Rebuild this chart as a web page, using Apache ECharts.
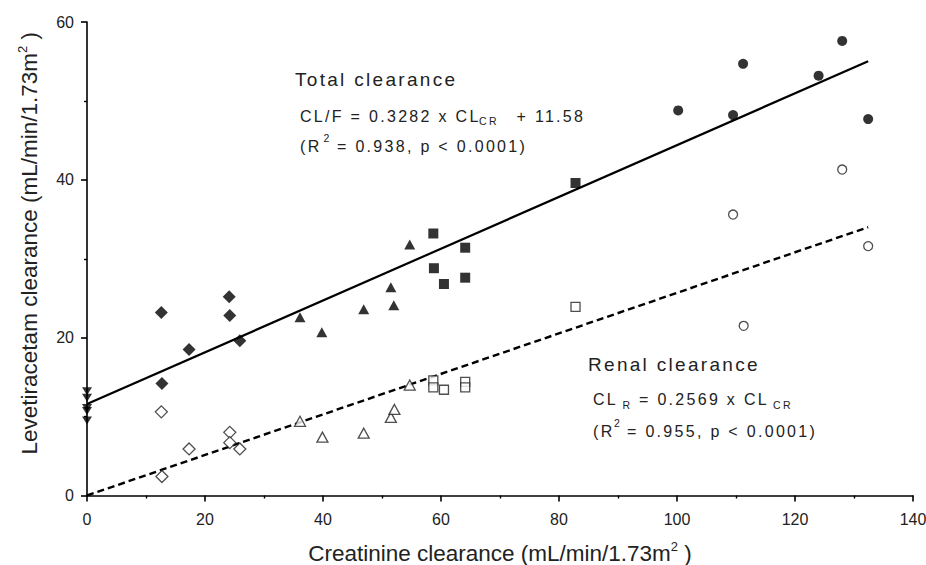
<!DOCTYPE html>
<html>
<head>
<meta charset="utf-8">
<script src="https://cdn.jsdelivr.net/npm/echarts@6/dist/echarts.min.js"></script>
<style>
  html, body { margin: 0; padding: 0; background: #fff; }
  #chart { width: 926px; height: 565px; }
  /* the figure's annotations are typeset with wide tracking */
  #chart svg text[style*="Liberation"] { letter-spacing: 2.3px; }
</style>
</head>
<body>
<div id="chart"></div>
<script>
// creatinine clearance (x) vs levetiracetam clearance (y)
const totalDiamond = [[12.6, 23.2], [24.1, 25.2], [24.2, 22.8], [17.3, 18.5], [25.9, 19.6], [12.7, 14.2]];
const renalDiamond = [[12.6, 10.6], [17.3, 5.9], [24.2, 8.0], [24.2, 6.7], [25.9, 5.9], [12.7, 2.4]];
const totalTriangle = [[36.1, 22.6], [39.8, 20.7], [46.9, 23.6], [51.5, 26.4], [52.0, 24.1], [54.7, 31.8]];
const renalTriangle = [[36.1, 9.4], [39.9, 7.4], [46.9, 7.9], [51.5, 9.9], [52.1, 10.9], [54.7, 14.0]];
const totalSquare = [[58.7, 33.2], [64.1, 31.4], [58.8, 28.8], [60.5, 26.8], [64.1, 27.6], [82.8, 39.6]];
const renalSquare = [[58.7, 14.6], [58.7, 13.7], [60.5, 13.4], [64.1, 14.4], [64.1, 13.7], [82.8, 23.9]];
const totalCircle = [[100.2, 48.8], [109.5, 48.2], [111.2, 54.7], [124.0, 53.2], [128.0, 57.6], [132.4, 47.7]];
const renalCircle = [[128.0, 41.3], [109.5, 35.6], [132.4, 31.6], [111.3, 21.5]];
const anuric = [[0, 13.2], [0, 12.4], [0, 11.1], [0, 10.7], [0, 9.5]];

// regression lines (end points)
const totalFit = [[0, 11.58], [132.4, 55.03]];
const renalFit = [[0, 0], [132.4, 34.0]];

const xTicks = { min: 0, max: 140, interval: 20 };
const yTicks = { min: 0, max: 60, interval: 20 };

const INK = '#000';
const TXT = '#222';
const FONT = 'Arial, sans-serif';
const NOTE_FONT = '"Liberation Sans", Arial, sans-serif';

function filled(name, data, symbol, size, rotate) {
  return {
    name, type: 'scatter', data, symbol, symbolSize: size, symbolRotate: rotate || 0,
    clip: false, z: 3,
    itemStyle: { color: INK, borderColor: INK, borderWidth: 0 },
    emphasis: { disabled: true }
  };
}
function hollow(name, data, symbol, size) {
  return {
    name, type: 'scatter', data, symbol, symbolSize: size,
    clip: false, z: 3,
    itemStyle: { color: '#fff', borderColor: '#222', borderWidth: 1.3 },
    emphasis: { disabled: true }
  };
}
// one piece of annotation text (sub/superscripts are separate pieces)
function note(text, left, top, size) {
  return {
    type: 'text', left, top,
    style: { text, fill: TXT, fontSize: size, fontFamily: NOTE_FONT }
  };
}

const chart = echarts.init(document.getElementById('chart'), null, { renderer: 'svg' });

const axisCommon = {
  axisLine: { show: true, onZero: false, lineStyle: { color: INK, width: 1.6 } },
  axisTick: { show: true, length: 6, lineStyle: { color: INK, width: 1.6 } },
  minorTick: { show: true, splitNumber: 2, length: 3, lineStyle: { color: INK, width: 1.4 } },
  splitLine: { show: false },
  axisLabel: { color: TXT, fontSize: 16, fontFamily: FONT },
  nameTextStyle: {
    color: TXT, fontSize: 22.5, fontFamily: FONT,
    rich: { sup: { fontSize: 13, padding: [0, 0, 14, 0], color: TXT, fontFamily: FONT } }
  }
};

const option = {
  backgroundColor: '#fff',
  animation: false,
  grid: { left: 87, right: 13, top: 22, bottom: 69.5, containLabel: false, outerBoundsMode: 'none' },
  xAxis: Object.assign({}, axisCommon, {
    type: 'value', min: xTicks.min, max: xTicks.max, interval: xTicks.interval,
    name: 'Creatinine clearance (mL/min/1.73m{sup|2} )',
    nameLocation: 'middle', nameGap: 44,
    axisLabel: Object.assign({}, axisCommon.axisLabel, { margin: 16 })
  }),
  yAxis: Object.assign({}, axisCommon, {
    type: 'value', min: yTicks.min, max: yTicks.max, interval: yTicks.interval,
    name: 'Levetiracetam clearance (mL/min/1.73m{sup|2} )',
    nameLocation: 'middle', nameGap: 44,
    nameTextStyle: Object.assign({}, axisCommon.nameTextStyle, { padding: [0, 0, 0, 31] }),
    axisLabel: Object.assign({}, axisCommon.axisLabel, { margin: 13 })
  }),
  series: [
    {
      name: 'Total fit', type: 'line', data: totalFit, symbol: 'none', z: 2,
      lineStyle: { color: INK, width: 2.2 }, emphasis: { disabled: true }
    },
    {
      name: 'Renal fit', type: 'line', data: renalFit, symbol: 'none', z: 2,
      lineStyle: { color: INK, width: 2.4, type: [7, 4] }, emphasis: { disabled: true }
    },
    filled('Total diamond', totalDiamond, 'diamond', [13, 13]),
    hollow('Renal diamond', renalDiamond, 'diamond', [12, 12]),
    filled('Total triangle', totalTriangle, 'triangle', [11, 10]),
    hollow('Renal triangle', renalTriangle, 'triangle', [11, 10]),
    filled('Total square', totalSquare, 'rect', 10),
    hollow('Renal square', renalSquare, 'rect', 9),
    filled('Total circle', totalCircle, 'circle', 10),
    hollow('Renal circle', renalCircle, 'circle', 9),
    filled('Anuric', anuric, 'triangle', [10, 8], 180)
  ],
  graphic: [
    note('Total clearance', 295, 70, 19),
    note('CL/F = 0.3282 x CL', 300, 108, 16),
    note('CR', 479, 115.5, 10.5),
    note('+ 11.58', 516.5, 108, 16),
    note('(R', 300, 138, 16),
    note('2', 323.5, 132.5, 10.5),
    note('= 0.938, p < 0.0001)', 337, 138, 16),

    note('Renal clearance', 588, 354.5, 19),
    note('CL', 593, 391, 16),
    note('R', 622.5, 399.5, 10.5),
    note('= 0.2569 x CL', 639, 391, 16),
    note('CR', 773, 399.5, 10.5),
    note('(R', 593, 423, 16),
    note('2', 614, 417.5, 10.5),
    note('= 0.955, p < 0.0001)', 627, 423, 16)
  ]
};

chart.setOption(option);
</script>
</body>
</html>
